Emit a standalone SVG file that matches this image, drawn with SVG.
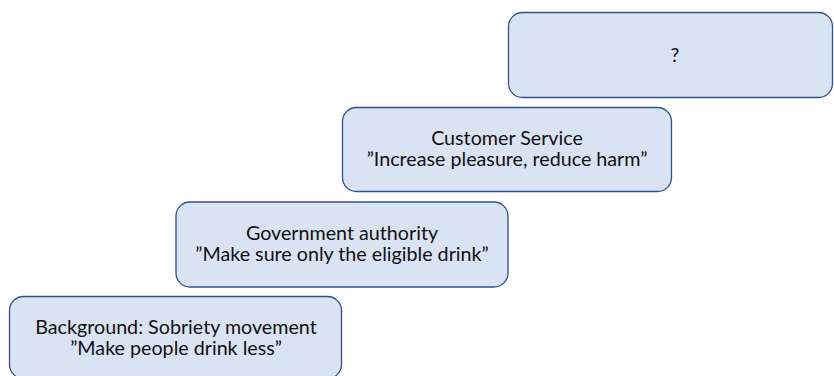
<svg xmlns="http://www.w3.org/2000/svg" width="834" height="376" viewBox="0 0 834 376">
  <style>
    .box { fill: #DAE3F3; stroke: #2F528F; stroke-width: 1.3; }
    .label { font-family: "Lato", "Open Sans", "Liberation Sans", sans-serif; font-size: 19.7px; fill: #111111; text-anchor: middle; }
  </style>
  <rect width="834" height="376" fill="#FFFFFF"/>
  <g id="connectors"></g>
  <g id="node-next">
    <rect class="box" x="508.5" y="12.5" width="324" height="85" rx="14" ry="14"/>
    <text class="label" x="675" y="62">?</text>
  </g>
  <g id="node-customer-service">
    <rect class="box" x="342.5" y="107.5" width="329" height="84" rx="14" ry="14"/>
    <text class="label" x="507" y="144.5">Customer Service</text>
    <text class="label" x="507" y="166">”Increase pleasure, reduce harm”</text>
  </g>
  <g id="node-government">
    <rect class="box" x="176" y="202" width="332" height="85" rx="14" ry="14"/>
    <text class="label" x="342" y="239.5">Government authority</text>
    <text class="label" x="342" y="261">”Make sure only the eligible drink”</text>
  </g>
  <g id="node-background">
    <rect class="box" x="9.5" y="296.5" width="332" height="82" rx="14" ry="14"/>
    <text class="label" x="176" y="333.5">Background: Sobriety movement</text>
    <text class="label" x="176" y="355">”Make people drink less”</text>
  </g>
</svg>
